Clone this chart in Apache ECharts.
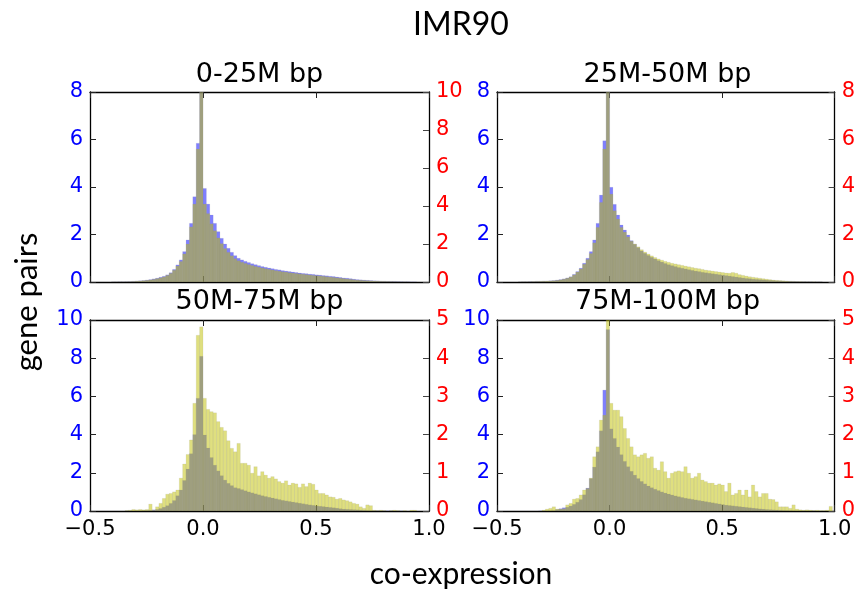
<!DOCTYPE html>
<html>
<head>
<meta charset="utf-8">
<script src="https://cdn.jsdelivr.net/npm/echarts@6/dist/echarts.min.js"></script>
<style>html,body{margin:0;padding:0;background:#fff;}#c{width:858px;height:602px;}</style>
</head>
<body>
<div id="c"></div>
<script>
// histogram bins: 99 bins of width 0.015 starting at -0.495
const binStart = -0.495;
const binWidth = 0.015;

const panelTitles = ['0-25M bp', '25M-50M bp', '50M-75M bp', '75M-100M bp'];
const xTickValues = [-0.5, 0.0, 0.5, 1.0];
const leftMax = [8, 8, 10, 10];
const rightMax = [10, 8, 5, 5];
const rightInterval = [2, 2, 1, 1];

const p1Blue = [0,0,0,0,0,0,0.005,0.005,0.01,0.01,0.015,0.02,0.03,0.04,0.05,0.06,0.08,0.1,0.13,0.16,0.2,0.24,0.3,0.39,0.53,0.72,0.93,1.28,1.77,2.47,3.59,5.84,8.6,
3.94,3.28,2.82,2.47,2.12,1.84,1.6,1.42,1.25,1.11,
1.0,0.93,0.87,0.82,0.77,0.73,0.69,0.65,0.62,0.59,
0.56,0.53,0.51,0.48,0.46,0.44,0.42,0.4,0.38,0.36,
0.35,0.33,0.32,0.3,0.29,0.27,0.26,0.24,0.23,0.21,
0.19,0.17,0.16,0.14,0.12,0.1,0.09,0.08,0.07,0.06,
0.05,0.045,0.04,0.035,0.03,0.028,0.025,0.02,0.015,0.01,
0.01,0.005,0.005,0,0,0];
const p1Yellow = [0,0,0,0,0,0,0.005,0.005,0.01,0.01,0.015,0.02,0.03,0.045,0.055,0.07,0.09,0.11,0.14,0.18,0.22,0.27,0.35,0.46,0.62,0.84,1.08,1.48,2.0,2.9,4.1,7.0,10.6,
4.1,3.6,3.06,2.7,2.32,2.02,1.76,1.56,1.38,1.23,
1.12,1.04,0.98,0.92,0.87,0.82,0.78,0.74,0.7,0.67,
0.63,0.6,0.57,0.54,0.52,0.49,0.47,0.45,0.43,0.41,
0.39,0.37,0.35,0.33,0.32,0.3,0.28,0.26,0.24,0.22,
0.2,0.18,0.16,0.14,0.12,0.1,0.09,0.08,0.07,0.06,
0.05,0.045,0.04,0.035,0.03,0.025,0.02,0.015,0.01,0.01,
0.005,0,0,0,0,0];
const p2Blue = [0,0,0,0,0,0,0.005,0.01,0.01,0.02,0.02,0.03,0.03,0.04,0.04,0.05,0.06,0.08,0.1,0.13,0.17,0.22,0.32,0.44,0.58,0.79,1.0,1.28,1.77,2.47,3.66,5.95,8.6,
3.99,3.27,2.82,2.4,2.19,1.98,1.74,1.59,1.45,1.31,
1.21,1.12,1.04,0.97,0.9,0.84,0.78,0.73,0.69,0.65,
0.61,0.58,0.55,0.52,0.49,0.46,0.44,0.41,0.39,0.37,
0.35,0.33,0.31,0.29,0.27,0.25,0.23,0.21,0.19,0.17,
0.15,0.14,0.12,0.11,0.1,0.09,0.08,0.07,0.06,0.05,
0.045,0.04,0.035,0.03,0.025,0.02,0.015,0.015,0.01,0.01,
0.005,0.005,0.005,0,0,0];
const p2Yellow = [0,0,0,0,0,0,0.005,0.01,0.01,0.015,0.02,0.025,0.03,0.035,0.04,0.045,0.055,0.07,0.09,0.12,0.16,0.21,0.3,0.42,0.55,0.75,0.95,1.2,1.65,2.3,3.35,5.6,8.5,
3.7,3.0,2.65,2.3,2.1,1.9,1.72,1.6,1.48,1.36,
1.26,1.18,1.1,1.03,0.97,0.92,0.87,0.83,0.79,0.76,
0.73,0.7,0.67,0.64,0.61,0.58,0.56,0.53,0.5,0.48,
0.46,0.44,0.42,0.4,0.38,0.37,0.4,0.37,0.31,0.28,
0.25,0.22,0.2,0.18,0.16,0.14,0.12,0.1,0.08,0.07,
0.06,0.05,0.04,0.03,0.025,0.02,0.02,0.015,0.01,0.01,
0.01,0.005,0.005,0,0,0];
const p3Blue = [0,0,0,0,0,0,0,0,0,0,0.005,0.01,0.01,0.015,0.02,0.025,0.03,0.04,0.06,0.08,0.13,0.2,0.28,0.4,0.55,0.8,1.1,1.6,2.2,3.0,4.0,5.9,8.1,
3.98,3.3,2.8,2.4,2.1,1.85,1.62,1.45,1.33,1.22,
1.18,1.12,1.06,1.0,0.95,0.9,0.85,0.8,0.76,0.72,
0.68,0.64,0.6,0.56,0.53,0.5,0.47,0.44,0.41,0.38,
0.35,0.32,0.3,0.27,0.25,0.23,0.21,0.19,0.17,0.15,
0.12,0.1,0.09,0.08,0.07,0.06,0.05,0.04,0.03,0.025,
0.02,0.015,0.015,0.01,0.01,0.01,0.005,0.005,0.005,0,
0,0,0,0,0,0];
const p3Yellow = [0,0,0,0,0,0,0,0,0,0,0.01,0.02,0.04,0.03,0.04,0.03,0.04,0.18,0.02,0.11,0.2,0.33,0.44,0.46,0.5,0.55,0.86,1.23,1.48,1.86,2.82,4.6,4.82,
2.95,2.66,2.6,2.57,2.34,2.19,2.1,1.84,1.64,1.55,
1.77,1.25,1.25,1.2,0.99,1.16,0.92,1.03,0.94,0.86,
0.9,0.84,0.77,0.73,0.79,0.68,0.73,0.71,0.62,0.71,
0.64,0.73,0.7,0.55,0.46,0.46,0.42,0.37,0.36,0.31,
0.33,0.29,0.27,0.24,0.2,0.18,0.11,0.07,0.16,0.14,
0.02,0.01,0.02,0.01,0,0.01,0.02,0.01,0,0.01,
0,0.02,0.02,0,0,0];
const p4Blue = [0,0,0,0,0,0,0,0,0,0,0,0,0.005,0.01,0.01,0.015,0.02,0.08,0.12,0.17,0.2,0.26,0.35,0.46,0.6,0.85,1.2,1.7,2.3,3.1,4.2,6.33,9.5,
4.3,3.8,3.35,2.95,2.6,2.32,2.08,1.88,1.7,1.55,
1.42,1.31,1.22,1.14,1.07,1.0,0.94,0.89,0.84,0.79,
0.75,0.71,0.67,0.64,0.61,0.58,0.55,0.52,0.49,0.46,
0.43,0.4,0.37,0.34,0.31,0.29,0.27,0.25,0.23,0.21,
0.19,0.17,0.15,0.13,0.11,0.1,0.08,0.07,0.06,0.05,
0.04,0.03,0.025,0.02,0.015,0.01,0.01,0.01,0.005,0.005,
0.005,0,0,0,0,0];
const p4Yellow = [0,0,0,0,0,0,0,0,0,0,0,0,0,0.02,0.05,0.07,0.11,0.05,0.05,0.06,0.16,0.2,0.31,0.33,0.42,0.55,0.59,0.86,1.42,1.68,2.38,2.51,5.3,
2.82,2.64,2.64,2.47,2.16,1.9,1.68,1.47,1.42,1.47,
1.51,1.38,1.42,1.12,1.07,1.29,1.03,0.86,0.99,1.03,
1.05,1.03,1.16,0.99,0.86,0.9,0.99,0.81,0.77,0.73,
0.73,0.68,0.71,0.68,0.51,0.73,0.42,0.46,0.55,0.42,
0.55,0.37,0.68,0.51,0.37,0.46,0.46,0.31,0.3,0.24,
0.11,0.11,0.11,0.07,0.16,0.05,0.03,0.02,0.03,0.02,
0.01,0.02,0.01,0.01,0.02,0.12];

const blueSets = [p1Blue, p2Blue, p3Blue, p4Blue];
const yellowSets = [p1Yellow, p2Yellow, p3Yellow, p4Yellow];

const grids = [
  {left: 90, top: 92, width: 339, height: 190},
  {left: 497, top: 92, width: 341, height: 190},
  {left: 90, top: 320, width: 339, height: 191},
  {left: 497, top: 320, width: 341, height: 191}
];

function toBins(vals) {
  return vals.map((v, i) => [binStart + i * binWidth, binStart + (i + 1) * binWidth, v]);
}

function makeRender(fill) {
  return function (params, api) {
    const x0 = api.value(0), x1 = api.value(1), v = api.value(2);
    if (!(v > 0)) return null;
    const a = api.coord([x0, v]);
    const b = api.coord([x1, 0]);
    return {
      type: 'rect',
      shape: {x: a[0], y: a[1], width: b[0] - a[0], height: b[1] - a[1]},
      style: {fill: fill, stroke: 'rgba(150,150,150,0.25)', lineWidth: 0.5}
    };
  };
}

const tickFont = 'DejaVu Sans';
const tickSize = 21;
const xAxes = [], yAxes = [], series = [];
grids.forEach((g, i) => {
  const bottomRow = i >= 2;
  const xBase = {
    gridIndex: i, type: 'value', min: -0.5, max: 1.0, interval: 0.5,
    splitLine: {show: false},
    axisLine: {show: true, onZero: false, lineStyle: {color: '#000', width: 1.3}},
    axisTick: {show: true, inside: true, length: 6, lineStyle: {color: '#222', width: 1}}
  };
  xAxes.push(Object.assign({}, xBase, {
    position: 'bottom',
    axisLabel: {
      show: bottomRow, color: '#000', fontSize: tickSize, fontFamily: tickFont, margin: 8,
      formatter: v => (v < 0 ? '\u2212' : '') + Math.abs(v).toFixed(1)
    }
  }));
  xAxes.push(Object.assign({}, xBase, {position: 'top', axisLabel: {show: false}}));
  yAxes.push({
    gridIndex: i, type: 'value', position: 'left', min: 0, max: leftMax[i], interval: 2,
    splitLine: {show: false},
    axisLine: {show: true, onZero: false, lineStyle: {color: '#000', width: 1.3}},
    axisTick: {show: true, inside: true, length: 6, lineStyle: {color: '#222'}},
    axisLabel: {color: '#0000ff', fontSize: tickSize, fontFamily: tickFont, margin: 7}
  });
  yAxes.push({
    gridIndex: i, type: 'value', position: 'right', min: 0, max: rightMax[i], interval: rightInterval[i],
    splitLine: {show: false},
    axisLine: {show: true, onZero: false, lineStyle: {color: '#000', width: 1.3}},
    axisTick: {show: true, inside: true, length: 6, lineStyle: {color: '#444'}},
    axisLabel: {color: '#ff0000', fontSize: tickSize, fontFamily: tickFont, margin: 7}
  });
  series.push({
    type: 'custom', xAxisIndex: 2 * i, yAxisIndex: 2 * i, clip: true,
    renderItem: makeRender('rgba(0,0,255,0.5)'),
    encode: {x: [0, 1], y: 2},
    data: toBins(blueSets[i]), z: 2, silent: true
  });
  series.push({
    type: 'custom', xAxisIndex: 2 * i, yAxisIndex: 2 * i + 1, clip: true,
    renderItem: makeRender('rgba(191,191,0,0.5)'),
    encode: {x: [0, 1], y: 2},
    data: toBins(yellowSets[i]), z: 3, silent: true
  });
});

const graphics = [
  {type: 'text', x: 461, y: 25, style: {text: 'IMR90', font: '32px Lato', fill: '#000', textAlign: 'center', textVerticalAlign: 'middle'}},
  {type: 'text', x: 461, y: 574, style: {text: 'co-expression', font: '30px Lato', fill: '#000', textAlign: 'center', textVerticalAlign: 'middle'}},
  {type: 'text', x: 27, y: 302, rotation: Math.PI / 2, style: {text: 'gene pairs', font: '31px Lato', fill: '#000', textAlign: 'center', textVerticalAlign: 'middle'}}
];
const titleY = [75, 75, 302, 302];
grids.forEach((g, i) => {
  graphics.push({type: 'text', x: g.left + g.width / 2, y: titleY[i],
    style: {text: panelTitles[i], font: '27px "DejaVu Sans"', fill: '#000', textAlign: 'center', textVerticalAlign: 'middle'}});
});

const chart = echarts.init(document.getElementById('c'), null, {renderer: 'canvas'});
chart.setOption({
  animation: false,
  backgroundColor: '#fff',
  grid: grids,
  xAxis: xAxes,
  yAxis: yAxes,
  series: series,
  graphic: graphics
});
</script>
</body>
</html>
